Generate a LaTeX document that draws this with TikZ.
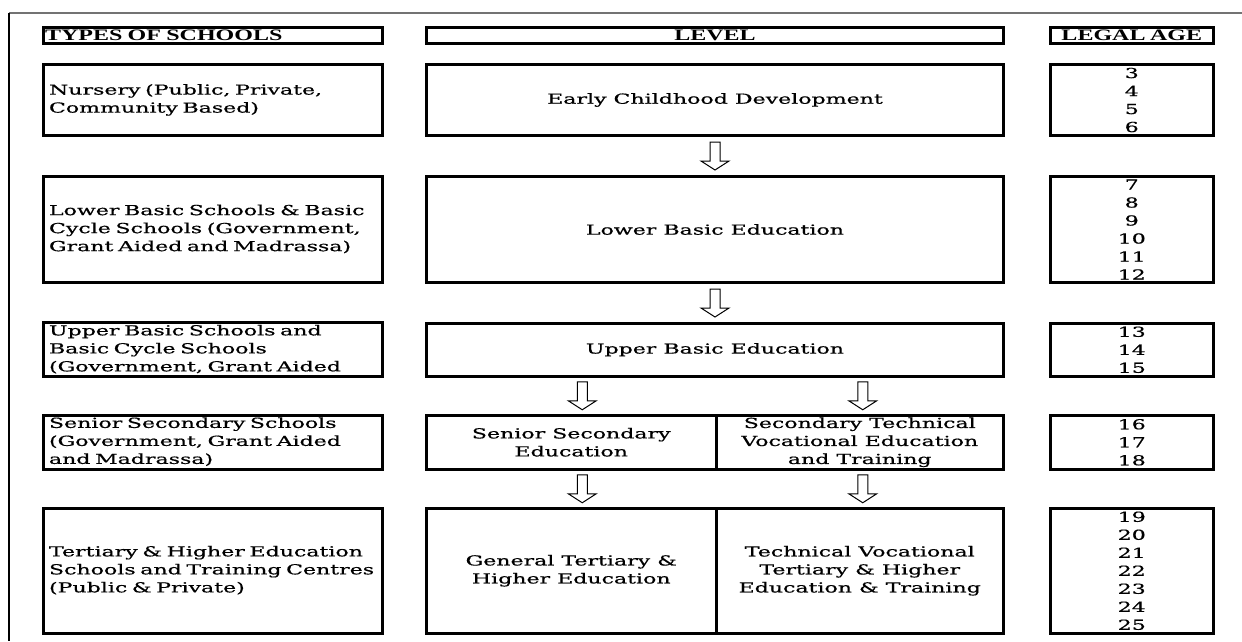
\documentclass[tikz,border=0pt]{standalone}
\usepackage{fontspec}
\newfontfamily\bodyfont{DejaVu Serif}[FakeStretch=1.6, FakeBold=0.6]
\newfontfamily\hdrfont{Liberation Serif}[FakeStretch=1.5]
\usetikzlibrary{calc}
\tikzset{
  downarrow/.pic={\draw[line width=1pt, fill=white, line join=miter]
    (-5,-14) -- (-5,5) -- (-14,5) -- (0,14) -- (14,5) -- (5,5) -- (5,-14) -- cycle;},
}
\begin{document}
\begin{tikzpicture}[x=1pt,y=-1pt,
  box/.style={draw, line width=3pt, inner sep=0pt},
  hdr/.style={box, minimum height=16pt, font=\hdrfont\bfseries\fontsize{16}{18}\selectfont},
  body/.style={box, font=\bodyfont\fontsize{13.8}{18}\selectfont, align=center},
  leftcell/.style={body, text width=327pt, align=left},
  colA/.style={minimum width=339pt},
  colB/.style={minimum width=577pt},
  colC/.style={minimum width=163.5pt},
  halfL/.style={minimum width=289.5pt},
  halfR/.style={minimum width=287.5pt},
]
\useasboundingbox (0,0) rectangle (1242,641);
% frame
\draw[line width=1.2pt, black!55] (9,13) -- (1242,13);
\draw[line width=1.5pt] (9,13) -- (9,641);

% headers
\node[hdr, colA, text width=335pt, align=left] (hA) at (212.5,35.5) {TYPES OF SCHOOLS};
\node[hdr, colB] (hB) at (715,35.5) {LEVEL};
\node[hdr, colC] (hC) at (1131.75,35.5) {LEGAL\hspace{-1.5pt} AGE};

% row 1
\node[leftcell, colA, minimum height=71pt] (a1) at (212.5,100)
  {\begin{tabular}{@{}l@{}}Nursery (Public, Private,\\Community Based)\end{tabular}};
\node[body, colB, minimum height=71pt] (b1) at (715,100) {Early Childhood Development};
\node[body, colC, minimum height=71pt] (c1) at (1131.75,100) {3\\4\\5\\6};

% row 2
\node[leftcell, colA, minimum height=106pt] (a2) at (212.5,229.5)
  {\begin{tabular}{@{}l@{}}Lower Basic Schools \& Basic\\Cycle Schools (Government,\\Grant Aided and Madrassa)\end{tabular}};
\node[body, colB, minimum height=106pt] (b2) at (715,229.5) {Lower Basic Education};
\node[body, colC, minimum height=106pt] (c2) at (1131.75,229.5) {7\\8\\9\\10\\11\\12};

% row 3
\node[leftcell, colA, minimum height=52.5pt] (a3) at (212.5,349.75)
  {\begin{tabular}{@{}l@{}}Upper Basic Schools and\\Basic Cycle Schools\\(Government, Grant Aided\end{tabular}};
\node[body, colB, minimum height=52.5pt] (b3) at (715,349.75) {Upper Basic Education};
\node[body, colC, minimum height=52.5pt] (c3) at (1131.75,349.75) {13\\14\\15};

% row 4
\node[leftcell, colA, minimum height=53.5pt] (a4) at (212.5,442.25)
  {\begin{tabular}{@{}l@{}}Senior Secondary Schools\\(Government, Grant Aided\\and Madrassa)\end{tabular}};
\node[body, halfL, minimum height=53.5pt] (b4a) at (571.25,442.25) {Senior Secondary\\Education};
\node[body, halfR, minimum height=53.5pt] (b4b) at (859.75,442.25) {Secondary Technical\\Vocational Education\\and Training};
\node[body, colC, minimum height=53.5pt] (c4) at (1131.75,442.25) {16\\17\\18};

% row 5
\node[leftcell, colA, minimum height=124.5pt] (a5) at (212.5,570.75)
  {\begin{tabular}{@{}l@{}}Tertiary \& Higher Education\\Schools and Training Centres\\(Public \& Private)\end{tabular}};
\node[body, halfL, minimum height=124.5pt] (b5a) at (571.25,570.75) {General Tertiary \&\\Higher Education};
\node[body, halfR, minimum height=124.5pt] (b5b) at (859.75,570.75) {Technical Vocational\\Tertiary \& Higher\\Education \& Training};
\node[body, colC, minimum height=124.5pt] (c5) at (1131.75,570.75) {19\\20\\21\\22\\23\\24\\25};

% arrows
\pic at ($(b1.south)!0.5!(b2.north)$) {downarrow};
\pic at ($(b2.south)!0.5!(b3.north)$) {downarrow};
\pic[xshift=11pt] at ($(b4a.north)!0.5!(b4a.north |- b3.south)$) {downarrow};
\pic[xshift=3pt] at ($(b4b.north)!0.5!(b4b.north |- b3.south)$) {downarrow};
\pic[xshift=11pt] at ($(b4a.south)!0.5!(b5a.north)$) {downarrow};
\pic[xshift=3pt] at ($(b4b.south)!0.5!(b5b.north)$) {downarrow};
\end{tikzpicture}
\end{document}
